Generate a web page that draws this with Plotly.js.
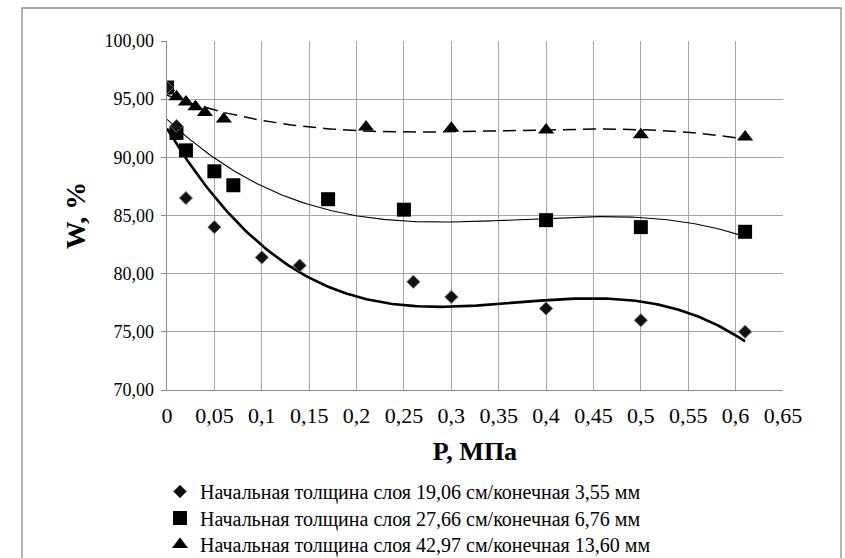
<!DOCTYPE html>
<html>
<head>
<meta charset="utf-8">
<script src="https://cdn.plot.ly/plotly-3.0.1.min.js"></script>
<style>html,body{margin:0;padding:0;background:#fff;}#chart{width:845px;height:558px;}</style>
</head>
<body>
<div id="chart"></div>
<script>
// ---- data ----
const seriesNames = [
  "Начальная толщина слоя 19,06 см/конечная 3,55 мм",
  "Начальная толщина слоя 27,66 см/конечная 6,76 мм",
  "Начальная толщина слоя 42,97 см/конечная 13,60 мм"
];
const pDiamond = [0, 0.01, 0.02, 0.05, 0.10, 0.14, 0.26, 0.30, 0.40, 0.50, 0.61];
const wDiamond = [96.0, 92.7, 86.5, 84.0, 81.4, 80.7, 79.3, 78.0, 77.0, 76.0, 75.0];
const pSquare  = [0, 0.01, 0.02, 0.05, 0.07, 0.17, 0.25, 0.40, 0.50, 0.61];
const wSquare  = [96.0, 92.1, 90.6, 88.8, 87.6, 86.4, 85.5, 84.6, 84.0, 83.6];
const pTriangle = [0, 0.01, 0.02, 0.03, 0.04, 0.06, 0.21, 0.30, 0.40, 0.50, 0.61];
const wTriangle = [96.0, 95.2, 94.75, 94.35, 93.85, 93.3, 92.6, 92.5, 92.35, 91.95, 91.75];
const xTickVals = [0, 0.05, 0.1, 0.15, 0.2, 0.25, 0.3, 0.35, 0.4, 0.45, 0.5, 0.55, 0.6, 0.65];
const xTickText = ["0", "0,05", "0,1", "0,15", "0,2", "0,25", "0,3", "0,35", "0,4", "0,45", "0,5", "0,55", "0,6", "0,65"];
const yTickVals = [70, 75, 80, 85, 90, 95, 100];
const yTickText = ["70,00", "75,00", "80,00", "85,00", "90,00", "95,00", "100,00"];
const xTitle = "P, МПа";
const yTitle = "W, %";

// ---- polynomial (order 3) trendline, as the spreadsheet computes it ----
function polyFit(xs, ys, order) {
  const n = order + 1;
  const A = [], b = [];
  for (let i = 0; i < n; i++) {
    A.push(new Array(n).fill(0)); b.push(0);
    for (let j = 0; j < n; j++) for (let k = 0; k < xs.length; k++) A[i][j] += Math.pow(xs[k], i + j);
    for (let k = 0; k < xs.length; k++) b[i] += ys[k] * Math.pow(xs[k], i);
  }
  for (let c = 0; c < n; c++) {
    let p = c;
    for (let r = c + 1; r < n; r++) if (Math.abs(A[r][c]) > Math.abs(A[p][c])) p = r;
    [A[c], A[p]] = [A[p], A[c]]; [b[c], b[p]] = [b[p], b[c]];
    for (let r = c + 1; r < n; r++) {
      const f = A[r][c] / A[c][c];
      for (let k = c; k < n; k++) A[r][k] -= f * A[c][k];
      b[r] -= f * b[c];
    }
  }
  const coef = new Array(n).fill(0);
  for (let r = n - 1; r >= 0; r--) {
    let s = b[r];
    for (let k = r + 1; k < n; k++) s -= A[r][k] * coef[k];
    coef[r] = s / A[r][r];
  }
  return coef;
}
function trend(xs, ys) {
  const c = polyFit(xs, ys, 3);
  const lo = Math.min(...xs), hi = Math.max(...xs);
  const tx = [], ty = [];
  for (let i = 0; i <= 200; i++) {
    const x = lo + (hi - lo) * i / 200;
    tx.push(x); ty.push(c[0] + c[1] * x + c[2] * x * x + c[3] * x * x * x);
  }
  return {x: tx, y: ty};
}
const tD = trend(pDiamond, wDiamond), tS = trend(pSquare, wSquare), tT = trend(pTriangle, wTriangle);

const traces = [
  {x: tD.x, y: tD.y, mode: 'lines', line: {color: '#000', width: 2.6}, showlegend: false, hoverinfo: 'skip'},
  {x: tS.x, y: tS.y, mode: 'lines', line: {color: '#000', width: 1.1}, showlegend: false, hoverinfo: 'skip'},
  {x: tT.x, y: tT.y, mode: 'lines', line: {color: '#000', width: 1.5, dash: '13px,7px'}, showlegend: false, hoverinfo: 'skip'},
  {x: pTriangle, y: wTriangle, mode: 'markers', name: seriesNames[2], legend: 'legend3',
   marker: {symbol: 'triangle-up', size: 14, color: '#000'}},
  {x: pSquare, y: wSquare, mode: 'markers', name: seriesNames[1], legend: 'legend2',
   marker: {symbol: 'square', size: 14, color: '#000'}},
  {x: pDiamond, y: wDiamond, mode: 'markers', name: seriesNames[0], legend: 'legend',
   marker: {symbol: 'diamond', size: 10, color: '#111', line: {color: '#666', width: 1}}}
];

const FONT = 'Liberation Serif';
const plotL = 167, plotR = 783, plotT = 41, plotB = 390, W = 845, H = 558;
const pw = plotR - plotL, ph = plotB - plotT;
function legendAt(topPx) {
  return {
    orientation: 'v', x: (160 - plotL) / pw, xanchor: 'left',
    y: -(topPx - plotB) / ph, yanchor: 'top',
    font: {family: FONT, size: 20, color: '#000'}, bgcolor: 'rgba(0,0,0,0)', itemwidth: 30
  };
}
const layout = {
  width: W, height: H,
  margin: {l: plotL, r: W - plotR, t: plotT, b: H - plotB, pad: 0, autoexpand: false},
  paper_bgcolor: '#fff', plot_bgcolor: '#fff',
  separators: ', ',
  font: {family: FONT, color: '#000', size: 18},
  xaxis: {
    range: [0, 0.65], tickvals: xTickVals, ticktext: xTickText,
    showgrid: true, gridcolor: '#a6a6a6', gridwidth: 1,
    showline: true, linecolor: '#8c8c8c', linewidth: 1.3, zeroline: false,
    ticks: '', tickfont: {family: FONT, size: 22}, ticklabelstandoff: 5,
    title: {text: xTitle, font: {family: FONT, size: 26, weight: 'bold'}, standoff: 15}
  },
  yaxis: {
    range: [70, 100], tickvals: yTickVals, ticktext: yTickText,
    showgrid: true, gridcolor: '#a6a6a6', gridwidth: 1,
    showline: true, linecolor: '#8c8c8c', linewidth: 1.3, zeroline: false,
    ticks: 'outside', ticklen: 5, tickcolor: '#8c8c8c', tickfont: {family: FONT, size: 18},
    ticklabelstandoff: 3,
    title: {text: yTitle, font: {family: FONT, size: 28, weight: 'bold'}, standoff: 10}
  },
  legend: legendAt(472),
  legend2: legendAt(498.5),
  legend3: legendAt(525),
  shapes: [{
    type: 'rect', xref: 'paper', yref: 'paper', layer: 'below',
    x0: (22 - plotL) / pw, x1: (841 - plotL) / pw,
    y0: (plotB - 570) / ph, y1: (plotB - 8) / ph,
    line: {color: '#8c8c8c', width: 1.3}, fillcolor: 'rgba(0,0,0,0)'
  }],
  showlegend: true
};
Plotly.newPlot('chart', traces, layout, {staticPlot: true, displayModeBar: false});
</script>
</body>
</html>
